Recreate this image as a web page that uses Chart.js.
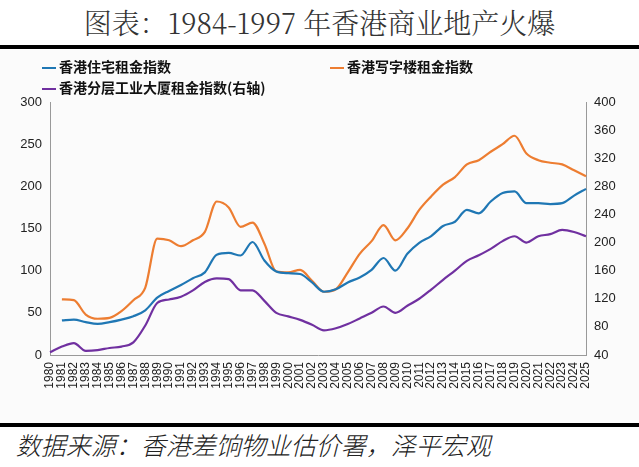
<!DOCTYPE html>
<html>
<head>
<meta charset="utf-8">
<script src="https://cdn.jsdelivr.net/npm/chart.js@4"></script>
<style>
body { margin: 0; width: 639px; height: 467px; background: #fff; position: relative; overflow: hidden; font-family: "Noto Sans CJK SC", sans-serif; }
#title { position: absolute; top: 2px; left: 0; width: 639px; text-align: center; font-family: "Noto Serif CJK SC", "Liberation Serif", serif; font-size: 28px; font-weight: 300; color: #333; }
.rule { position: absolute; left: 0; width: 639px; height: 4px; background: #000; }
#panel { position: absolute; top: 50px; left: 0; width: 639px; height: 370px; background: #fbfbfb; }
#legend { position: absolute; top: 56px; left: 40px; font-size: 14px; font-weight: bold; color: #111; }
.item { position: absolute; white-space: nowrap; }
.sw { display: inline-block; width: 14px; height: 2px; vertical-align: middle; margin-right: 3px; }
#src { position: absolute; top: 426px; left: 14px; font-size: 25px; color: #222; font-family: "Noto Sans CJK SC", sans-serif; font-weight: 300; transform: skewX(-14deg); transform-origin: left bottom; }
</style>
</head>
<body>
<div id="title">图表：1984-1997 年香港商业地产火爆</div>
<div class="rule" style="top:45px"></div>
<div id="panel"><canvas id="c" width="639" height="370"></canvas></div>
<div id="legend">
  <div class="item" style="left:2px;top:0"><span class="sw" style="background:#1f77b4"></span>香港住宅租金指数</div>
  <div class="item" style="left:290px;top:0"><span class="sw" style="background:#ed7d31"></span>香港写字楼租金指数</div>
  <div class="item" style="left:2px;top:21px"><span class="sw" style="background:#7030a0"></span>香港分层工业大厦租金指数(右轴)</div>
</div>
<div class="rule" style="top:423px"></div>
<div id="src">数据来源：香港差饷物业估价署，泽平宏观</div>
<script>
var years = [];
for (var y = 1980; y <= 2025; y++) years.push(String(y));

var residential = [null, 41, 42, 39, 37, 39, 42, 46, 53, 68, 76, 83, 91, 98, 119, 121, 118, 134, 112, 99, 97, 96, 86, 75, 78, 86, 92, 101, 115, 100, 120, 133, 141, 153, 158, 172, 168, 182, 192, 194, 180, 180, 179, 180, 189, 197];
var office = [null, 66, 65, 48, 43, 44, 52, 65, 80, 138, 136, 129, 136, 146, 182, 175, 152, 157, 132, 99, 98, 101, 88, 75, 78, 98, 120, 135, 154, 136, 150, 172, 188, 202, 211, 226, 231, 241, 250, 260, 239, 231, 228, 226, 219, 212];
var industrial = [44, 52, 57, 46, 47, 50, 52, 58, 82, 114, 119, 123, 132, 144, 149, 148, 132, 132, 117, 100, 95, 90, 83, 75, 78, 84, 92, 100, 109, 100, 110, 120, 133, 147, 160, 174, 182, 191, 202, 209, 200, 209, 212, 218, 215, 209];

var tickFont = { family: "Liberation Sans, Arial", size: 13 };

new Chart(document.getElementById('c'), {
  type: 'line',
  data: {
    labels: years,
    datasets: [
      { label: '香港住宅租金指数', data: residential, borderColor: '#1f77b4', yAxisID: 'y' },
      { label: '香港写字楼租金指数', data: office, borderColor: '#ed7d31', yAxisID: 'y' },
      { label: '香港分层工业大厦租金指数(右轴)', data: industrial, borderColor: '#7030a0', yAxisID: 'y2' }
    ]
  },
  options: {
    responsive: false,
    animation: false,
    layout: { padding: { top: 52, bottom: 0, left: 0, right: 0 } },
    elements: { point: { radius: 0 }, line: { borderWidth: 2.2, cubicInterpolationMode: 'monotone' } },
    plugins: { legend: { display: false }, tooltip: { enabled: false } },
    scales: {
      x: {
        offset: false,
        grid: { display: false, drawTicks: true, tickLength: 5, color: '#999' },
        border: { color: '#999' },
        ticks: { autoSkip: false, maxRotation: 90, minRotation: 90, color: '#222', font: { family: "Liberation Sans, Arial", size: 12 }, padding: 2 },
        afterFit: function (s) { s.height = 65; }
      },
      y: {
        position: 'left', min: 0, max: 300,
        grid: { display: false, drawTicks: true, tickLength: 5, color: '#999' },
        border: { color: '#999' },
        ticks: { stepSize: 50, color: '#222', font: tickFont },
        afterFit: function (s) { s.width = 50; }
      },
      y2: {
        position: 'right', min: 40, max: 400,
        grid: { display: false, drawTicks: true, tickLength: 5, color: '#999' },
        border: { color: '#999' },
        ticks: { stepSize: 40, color: '#222', font: tickFont },
        afterFit: function (s) { s.width = 53; }
      }
    }
  }
});
</script>
</body>
</html>
